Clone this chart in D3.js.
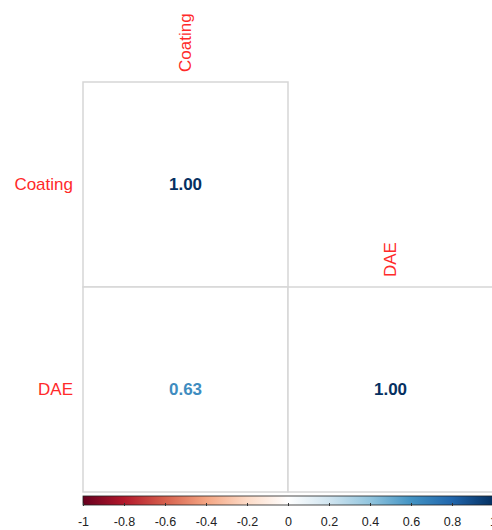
<!DOCTYPE html>
<html lang="en">
<head>
<meta charset="utf-8">
<title>Correlation</title>
<style type="text/css">
body { margin: 0; background: #fff; }
.lab { fill: #ff2a2a; font-family: "Liberation Sans", Arial, sans-serif; font-size: 17px; }
.num { font-family: "Liberation Sans", Arial, sans-serif; font-size: 17px; font-weight: bold; }
.tick text { font-family: "Liberation Sans", Arial, sans-serif; font-size: 12.5px; fill: #222; }
</style>
<script type="text/javascript" src="https://cdn.jsdelivr.net/npm/d3@7"></script>
</head>
<body>
<script type="text/javascript">
var w = 492, h = 530;

var vars = ["Coating", "DAE"];
var corr = [[1.00, 0.63],
            [0.63, 1.00]];
var legendTicks = [-1, -0.8, -0.6, -0.4, -0.2, 0, 0.2, 0.4, 0.6, 0.8, 1];
var palette = ["#67001F", "#B2182B", "#D6604D", "#F4A582", "#FDDBC7", "#FFFFFF",
               "#D1E5F0", "#92C5DE", "#4393C3", "#2166AC", "#053061"];

var svg = d3.select("body").append("svg")
            .attr("width", w)
            .attr("height", h);

var x = d3.scaleBand().domain(vars).range([83, 493]);
var y = d3.scaleBand().domain(vars).range([82, 492]);
var col = d3.scaleLinear().domain(legendTicks).range(palette);

// lower triangle cells
var cells = [];
vars.forEach(function(r, i) {
  vars.forEach(function(c, j) {
    if (j <= i) cells.push({row: r, col: c, v: corr[i][j]});
  });
});

svg.selectAll("rect.cell")
   .data(cells)
   .enter()
   .append("rect")
   .attr("class", "cell")
   .attr("x", function(d) { return x(d.col); })
   .attr("y", function(d) { return y(d.row); })
   .attr("width", x.bandwidth())
   .attr("height", y.bandwidth())
   .attr("fill", "white")
   .attr("stroke", "#d6d6d6")
   .attr("stroke-width", 1.5);

svg.selectAll("text.num")
   .data(cells)
   .enter()
   .append("text")
   .attr("class", "num")
   .attr("x", function(d) { return x(d.col) + x.bandwidth() / 2; })
   .attr("y", function(d) { return y(d.row) + y.bandwidth() / 2; })
   .attr("text-anchor", "middle")
   .attr("dominant-baseline", "central")
   .attr("fill", function(d) { return col(d.v); })
   .text(function(d) { return d.v.toFixed(2); });

// row labels
svg.selectAll("text.rowlab")
   .data(vars)
   .enter()
   .append("text")
   .attr("class", "lab")
   .attr("x", 73)
   .attr("y", function(d) { return y(d) + y.bandwidth() / 2; })
   .attr("text-anchor", "end")
   .attr("dominant-baseline", "central")
   .text(function(d) { return d; });

// column labels, rotated, sitting above the diagonal cell
svg.selectAll("text.collab")
   .data(vars)
   .enter()
   .append("text")
   .attr("class", "lab")
   .attr("transform", function(d) {
     return "translate(" + (x(d) + x.bandwidth() / 2) + "," + (y(d) - 10) + ") rotate(-90)";
   })
   .attr("dominant-baseline", "central")
   .text(function(d) { return d; });

// colour legend
var lx = d3.scaleLinear().domain([-1, 1]).range([83, 493]);
var grad = svg.append("defs").append("linearGradient")
              .attr("id", "rdbu");
grad.selectAll("stop")
    .data(legendTicks)
    .enter()
    .append("stop")
    .attr("offset", function(d) { return ((d + 1) / 2 * 100) + "%"; })
    .attr("stop-color", function(d) { return col(d); });

svg.append("rect")
   .attr("x", lx(-1))
   .attr("y", 496)
   .attr("width", lx(1) - lx(-1))
   .attr("height", 9)
   .attr("fill", "url(#rdbu)")
   .attr("stroke", "#222")
   .attr("stroke-width", 0.8);

var axis = d3.axisBottom(lx)
             .tickValues(legendTicks)
             .tickFormat(function(d) { return String(+d.toFixed(1)); })
             .tickSize(3)
             .tickPadding(11);

var g = svg.append("g")
           .attr("transform", "translate(0,503)")
           .call(axis);
g.select(".domain").remove();
g.selectAll(".tick line").attr("stroke", "#333");
</script>
</body>
</html>
